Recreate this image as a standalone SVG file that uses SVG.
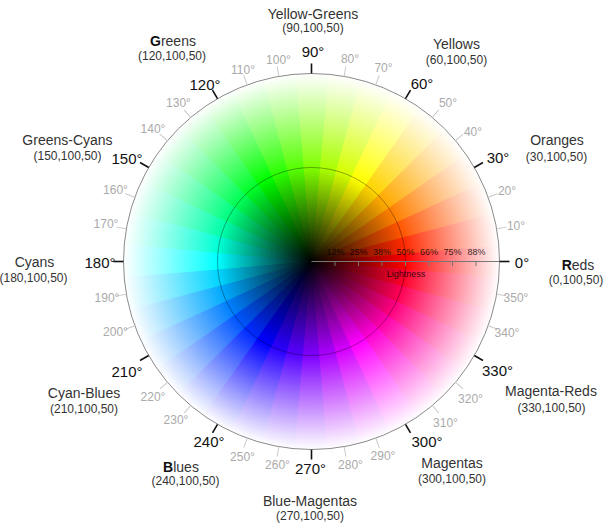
<svg xmlns="http://www.w3.org/2000/svg" xmlns:xlink="http://www.w3.org/1999/xlink" width="610" height="530" viewBox="0 0 610 530">
<style>
text{font-family:"Liberation Sans","Noto Sans",Arial,sans-serif;}
.name{font-size:14px;fill:#333;text-anchor:middle;}
.coord{font-size:12px;fill:#333;text-anchor:middle;}
.maj{font-size:15px;fill:#111;text-anchor:middle;}
.min{font-size:12px;fill:#aaa;text-anchor:middle;}
.pct{font-size:9px;fill:#000;fill-opacity:.8;text-anchor:middle;}
.mt{stroke:#c8c8c8;stroke-width:1;}
.Mt{stroke:#111;stroke-width:1.6;}
</style>
<defs>
<path id="w" d="M311.5,261.5 L498.725,278.539 A188,188 0 0,0 498.725,244.461 Z"/>
<line id="tk" x1="499.5" y1="261.5" x2="509.5" y2="261.5"/>
<radialGradient id="gb" gradientUnits="userSpaceOnUse" cx="311.5" cy="261.5" r="188"><stop offset="0" stop-color="#000"/><stop offset=".5" stop-color="#7a7a7a"/><stop offset="1" stop-color="#fff"/></radialGradient>
<radialGradient id="g0" gradientUnits="userSpaceOnUse" cx="311.5" cy="261.5" r="188"><stop offset="0" stop-color="#000"/><stop offset=".5" stop-color="hsl(0,100%,50%)"/><stop offset="1" stop-color="#fff"/></radialGradient>
<radialGradient id="g10" gradientUnits="userSpaceOnUse" cx="311.5" cy="261.5" r="188"><stop offset="0" stop-color="#000"/><stop offset=".5" stop-color="hsl(10,100%,50%)"/><stop offset="1" stop-color="#fff"/></radialGradient>
<radialGradient id="g20" gradientUnits="userSpaceOnUse" cx="311.5" cy="261.5" r="188"><stop offset="0" stop-color="#000"/><stop offset=".5" stop-color="hsl(20,100%,50%)"/><stop offset="1" stop-color="#fff"/></radialGradient>
<radialGradient id="g30" gradientUnits="userSpaceOnUse" cx="311.5" cy="261.5" r="188"><stop offset="0" stop-color="#000"/><stop offset=".5" stop-color="hsl(30,100%,50%)"/><stop offset="1" stop-color="#fff"/></radialGradient>
<radialGradient id="g40" gradientUnits="userSpaceOnUse" cx="311.5" cy="261.5" r="188"><stop offset="0" stop-color="#000"/><stop offset=".5" stop-color="hsl(40,100%,50%)"/><stop offset="1" stop-color="#fff"/></radialGradient>
<radialGradient id="g50" gradientUnits="userSpaceOnUse" cx="311.5" cy="261.5" r="188"><stop offset="0" stop-color="#000"/><stop offset=".5" stop-color="hsl(50,100%,50%)"/><stop offset="1" stop-color="#fff"/></radialGradient>
<radialGradient id="g60" gradientUnits="userSpaceOnUse" cx="311.5" cy="261.5" r="188"><stop offset="0" stop-color="#000"/><stop offset=".5" stop-color="hsl(60,100%,50%)"/><stop offset="1" stop-color="#fff"/></radialGradient>
<radialGradient id="g70" gradientUnits="userSpaceOnUse" cx="311.5" cy="261.5" r="188"><stop offset="0" stop-color="#000"/><stop offset=".5" stop-color="hsl(70,100%,50%)"/><stop offset="1" stop-color="#fff"/></radialGradient>
<radialGradient id="g80" gradientUnits="userSpaceOnUse" cx="311.5" cy="261.5" r="188"><stop offset="0" stop-color="#000"/><stop offset=".5" stop-color="hsl(80,100%,50%)"/><stop offset="1" stop-color="#fff"/></radialGradient>
<radialGradient id="g90" gradientUnits="userSpaceOnUse" cx="311.5" cy="261.5" r="188"><stop offset="0" stop-color="#000"/><stop offset=".5" stop-color="hsl(90,100%,50%)"/><stop offset="1" stop-color="#fff"/></radialGradient>
<radialGradient id="g100" gradientUnits="userSpaceOnUse" cx="311.5" cy="261.5" r="188"><stop offset="0" stop-color="#000"/><stop offset=".5" stop-color="hsl(100,100%,50%)"/><stop offset="1" stop-color="#fff"/></radialGradient>
<radialGradient id="g110" gradientUnits="userSpaceOnUse" cx="311.5" cy="261.5" r="188"><stop offset="0" stop-color="#000"/><stop offset=".5" stop-color="hsl(110,100%,50%)"/><stop offset="1" stop-color="#fff"/></radialGradient>
<radialGradient id="g120" gradientUnits="userSpaceOnUse" cx="311.5" cy="261.5" r="188"><stop offset="0" stop-color="#000"/><stop offset=".5" stop-color="hsl(120,100%,50%)"/><stop offset="1" stop-color="#fff"/></radialGradient>
<radialGradient id="g130" gradientUnits="userSpaceOnUse" cx="311.5" cy="261.5" r="188"><stop offset="0" stop-color="#000"/><stop offset=".5" stop-color="hsl(130,100%,50%)"/><stop offset="1" stop-color="#fff"/></radialGradient>
<radialGradient id="g140" gradientUnits="userSpaceOnUse" cx="311.5" cy="261.5" r="188"><stop offset="0" stop-color="#000"/><stop offset=".5" stop-color="hsl(140,100%,50%)"/><stop offset="1" stop-color="#fff"/></radialGradient>
<radialGradient id="g150" gradientUnits="userSpaceOnUse" cx="311.5" cy="261.5" r="188"><stop offset="0" stop-color="#000"/><stop offset=".5" stop-color="hsl(150,100%,50%)"/><stop offset="1" stop-color="#fff"/></radialGradient>
<radialGradient id="g160" gradientUnits="userSpaceOnUse" cx="311.5" cy="261.5" r="188"><stop offset="0" stop-color="#000"/><stop offset=".5" stop-color="hsl(160,100%,50%)"/><stop offset="1" stop-color="#fff"/></radialGradient>
<radialGradient id="g170" gradientUnits="userSpaceOnUse" cx="311.5" cy="261.5" r="188"><stop offset="0" stop-color="#000"/><stop offset=".5" stop-color="hsl(170,100%,50%)"/><stop offset="1" stop-color="#fff"/></radialGradient>
<radialGradient id="g180" gradientUnits="userSpaceOnUse" cx="311.5" cy="261.5" r="188"><stop offset="0" stop-color="#000"/><stop offset=".5" stop-color="hsl(180,100%,50%)"/><stop offset="1" stop-color="#fff"/></radialGradient>
<radialGradient id="g190" gradientUnits="userSpaceOnUse" cx="311.5" cy="261.5" r="188"><stop offset="0" stop-color="#000"/><stop offset=".5" stop-color="hsl(190,100%,50%)"/><stop offset="1" stop-color="#fff"/></radialGradient>
<radialGradient id="g200" gradientUnits="userSpaceOnUse" cx="311.5" cy="261.5" r="188"><stop offset="0" stop-color="#000"/><stop offset=".5" stop-color="hsl(200,100%,50%)"/><stop offset="1" stop-color="#fff"/></radialGradient>
<radialGradient id="g210" gradientUnits="userSpaceOnUse" cx="311.5" cy="261.5" r="188"><stop offset="0" stop-color="#000"/><stop offset=".5" stop-color="hsl(210,100%,50%)"/><stop offset="1" stop-color="#fff"/></radialGradient>
<radialGradient id="g220" gradientUnits="userSpaceOnUse" cx="311.5" cy="261.5" r="188"><stop offset="0" stop-color="#000"/><stop offset=".5" stop-color="hsl(220,100%,50%)"/><stop offset="1" stop-color="#fff"/></radialGradient>
<radialGradient id="g230" gradientUnits="userSpaceOnUse" cx="311.5" cy="261.5" r="188"><stop offset="0" stop-color="#000"/><stop offset=".5" stop-color="hsl(230,100%,50%)"/><stop offset="1" stop-color="#fff"/></radialGradient>
<radialGradient id="g240" gradientUnits="userSpaceOnUse" cx="311.5" cy="261.5" r="188"><stop offset="0" stop-color="#000"/><stop offset=".5" stop-color="hsl(240,100%,50%)"/><stop offset="1" stop-color="#fff"/></radialGradient>
<radialGradient id="g250" gradientUnits="userSpaceOnUse" cx="311.5" cy="261.5" r="188"><stop offset="0" stop-color="#000"/><stop offset=".5" stop-color="hsl(250,100%,50%)"/><stop offset="1" stop-color="#fff"/></radialGradient>
<radialGradient id="g260" gradientUnits="userSpaceOnUse" cx="311.5" cy="261.5" r="188"><stop offset="0" stop-color="#000"/><stop offset=".5" stop-color="hsl(260,100%,50%)"/><stop offset="1" stop-color="#fff"/></radialGradient>
<radialGradient id="g270" gradientUnits="userSpaceOnUse" cx="311.5" cy="261.5" r="188"><stop offset="0" stop-color="#000"/><stop offset=".5" stop-color="hsl(270,100%,50%)"/><stop offset="1" stop-color="#fff"/></radialGradient>
<radialGradient id="g280" gradientUnits="userSpaceOnUse" cx="311.5" cy="261.5" r="188"><stop offset="0" stop-color="#000"/><stop offset=".5" stop-color="hsl(280,100%,50%)"/><stop offset="1" stop-color="#fff"/></radialGradient>
<radialGradient id="g290" gradientUnits="userSpaceOnUse" cx="311.5" cy="261.5" r="188"><stop offset="0" stop-color="#000"/><stop offset=".5" stop-color="hsl(290,100%,50%)"/><stop offset="1" stop-color="#fff"/></radialGradient>
<radialGradient id="g300" gradientUnits="userSpaceOnUse" cx="311.5" cy="261.5" r="188"><stop offset="0" stop-color="#000"/><stop offset=".5" stop-color="hsl(300,100%,50%)"/><stop offset="1" stop-color="#fff"/></radialGradient>
<radialGradient id="g310" gradientUnits="userSpaceOnUse" cx="311.5" cy="261.5" r="188"><stop offset="0" stop-color="#000"/><stop offset=".5" stop-color="hsl(310,100%,50%)"/><stop offset="1" stop-color="#fff"/></radialGradient>
<radialGradient id="g320" gradientUnits="userSpaceOnUse" cx="311.5" cy="261.5" r="188"><stop offset="0" stop-color="#000"/><stop offset=".5" stop-color="hsl(320,100%,50%)"/><stop offset="1" stop-color="#fff"/></radialGradient>
<radialGradient id="g330" gradientUnits="userSpaceOnUse" cx="311.5" cy="261.5" r="188"><stop offset="0" stop-color="#000"/><stop offset=".5" stop-color="hsl(330,100%,50%)"/><stop offset="1" stop-color="#fff"/></radialGradient>
<radialGradient id="g340" gradientUnits="userSpaceOnUse" cx="311.5" cy="261.5" r="188"><stop offset="0" stop-color="#000"/><stop offset=".5" stop-color="hsl(340,100%,50%)"/><stop offset="1" stop-color="#fff"/></radialGradient>
<radialGradient id="g350" gradientUnits="userSpaceOnUse" cx="311.5" cy="261.5" r="188"><stop offset="0" stop-color="#000"/><stop offset=".5" stop-color="hsl(350,100%,50%)"/><stop offset="1" stop-color="#fff"/></radialGradient>
</defs>

<g id="wheel">
<circle cx="311.5" cy="261.5" r="188" fill="url(#gb)"/>
<use href="#w" fill="url(#g0)"/>
<use href="#w" fill="url(#g10)" transform="rotate(-10 311.5 261.5)"/>
<use href="#w" fill="url(#g20)" transform="rotate(-20 311.5 261.5)"/>
<use href="#w" fill="url(#g30)" transform="rotate(-30 311.5 261.5)"/>
<use href="#w" fill="url(#g40)" transform="rotate(-40 311.5 261.5)"/>
<use href="#w" fill="url(#g50)" transform="rotate(-50 311.5 261.5)"/>
<use href="#w" fill="url(#g60)" transform="rotate(-60 311.5 261.5)"/>
<use href="#w" fill="url(#g70)" transform="rotate(-70 311.5 261.5)"/>
<use href="#w" fill="url(#g80)" transform="rotate(-80 311.5 261.5)"/>
<use href="#w" fill="url(#g90)" transform="rotate(-90 311.5 261.5)"/>
<use href="#w" fill="url(#g100)" transform="rotate(-100 311.5 261.5)"/>
<use href="#w" fill="url(#g110)" transform="rotate(-110 311.5 261.5)"/>
<use href="#w" fill="url(#g120)" transform="rotate(-120 311.5 261.5)"/>
<use href="#w" fill="url(#g130)" transform="rotate(-130 311.5 261.5)"/>
<use href="#w" fill="url(#g140)" transform="rotate(-140 311.5 261.5)"/>
<use href="#w" fill="url(#g150)" transform="rotate(-150 311.5 261.5)"/>
<use href="#w" fill="url(#g160)" transform="rotate(-160 311.5 261.5)"/>
<use href="#w" fill="url(#g170)" transform="rotate(-170 311.5 261.5)"/>
<use href="#w" fill="url(#g180)" transform="rotate(-180 311.5 261.5)"/>
<use href="#w" fill="url(#g190)" transform="rotate(-190 311.5 261.5)"/>
<use href="#w" fill="url(#g200)" transform="rotate(-200 311.5 261.5)"/>
<use href="#w" fill="url(#g210)" transform="rotate(-210 311.5 261.5)"/>
<use href="#w" fill="url(#g220)" transform="rotate(-220 311.5 261.5)"/>
<use href="#w" fill="url(#g230)" transform="rotate(-230 311.5 261.5)"/>
<use href="#w" fill="url(#g240)" transform="rotate(-240 311.5 261.5)"/>
<use href="#w" fill="url(#g250)" transform="rotate(-250 311.5 261.5)"/>
<use href="#w" fill="url(#g260)" transform="rotate(-260 311.5 261.5)"/>
<use href="#w" fill="url(#g270)" transform="rotate(-270 311.5 261.5)"/>
<use href="#w" fill="url(#g280)" transform="rotate(-280 311.5 261.5)"/>
<use href="#w" fill="url(#g290)" transform="rotate(-290 311.5 261.5)"/>
<use href="#w" fill="url(#g300)" transform="rotate(-300 311.5 261.5)"/>
<use href="#w" fill="url(#g310)" transform="rotate(-310 311.5 261.5)"/>
<use href="#w" fill="url(#g320)" transform="rotate(-320 311.5 261.5)"/>
<use href="#w" fill="url(#g330)" transform="rotate(-330 311.5 261.5)"/>
<use href="#w" fill="url(#g340)" transform="rotate(-340 311.5 261.5)"/>
<use href="#w" fill="url(#g350)" transform="rotate(-350 311.5 261.5)"/>
<circle cx="311.5" cy="261.5" r="188" fill="none" stroke="#8a8a8a" stroke-width="1"/>
<circle cx="311.5" cy="261.5" r="94" fill="none" stroke="#000" stroke-opacity=".35" stroke-width="1"/>
</g>

<g id="lightness-axis">
<line x1="311.5" y1="261.5" x2="499.5" y2="261.5" stroke="#777" stroke-width="1"/>
<g stroke="#777" stroke-width="1">
<line x1="335" y1="261.5" x2="335" y2="266"/>
<line x1="358.5" y1="261.5" x2="358.5" y2="266"/>
<line x1="382" y1="261.5" x2="382" y2="266"/>
<line x1="405.5" y1="261.5" x2="405.5" y2="266"/>
<line x1="429" y1="261.5" x2="429" y2="266"/>
<line x1="452.5" y1="261.5" x2="452.5" y2="266"/>
<line x1="476" y1="261.5" x2="476" y2="266"/>
</g>
<text class="pct" x="335.5" y="254.5">12%</text>
<text class="pct" x="358.5" y="254.5">25%</text>
<text class="pct" x="382" y="254.5">38%</text>
<text class="pct" x="405.5" y="254.5">50%</text>
<text class="pct" x="429" y="254.5">66%</text>
<text class="pct" x="452.5" y="254.5">75%</text>
<text class="pct" x="476.5" y="254.5">88%</text>
<text class="pct" x="406" y="277" style="font-size:9px">Lightness</text>
</g>

<g id="ticks">
<use href="#tk" class="mt" transform="rotate(-10 311.5 261.5)"/>
<use href="#tk" class="mt" transform="rotate(-20 311.5 261.5)"/>
<use href="#tk" class="mt" transform="rotate(-40 311.5 261.5)"/>
<use href="#tk" class="mt" transform="rotate(-50 311.5 261.5)"/>
<use href="#tk" class="mt" transform="rotate(-70 311.5 261.5)"/>
<use href="#tk" class="mt" transform="rotate(-80 311.5 261.5)"/>
<use href="#tk" class="mt" transform="rotate(-100 311.5 261.5)"/>
<use href="#tk" class="mt" transform="rotate(-110 311.5 261.5)"/>
<use href="#tk" class="mt" transform="rotate(-130 311.5 261.5)"/>
<use href="#tk" class="mt" transform="rotate(-140 311.5 261.5)"/>
<use href="#tk" class="mt" transform="rotate(-160 311.5 261.5)"/>
<use href="#tk" class="mt" transform="rotate(-170 311.5 261.5)"/>
<use href="#tk" class="mt" transform="rotate(-190 311.5 261.5)"/>
<use href="#tk" class="mt" transform="rotate(-200 311.5 261.5)"/>
<use href="#tk" class="mt" transform="rotate(-220 311.5 261.5)"/>
<use href="#tk" class="mt" transform="rotate(-230 311.5 261.5)"/>
<use href="#tk" class="mt" transform="rotate(-250 311.5 261.5)"/>
<use href="#tk" class="mt" transform="rotate(-260 311.5 261.5)"/>
<use href="#tk" class="mt" transform="rotate(-280 311.5 261.5)"/>
<use href="#tk" class="mt" transform="rotate(-290 311.5 261.5)"/>
<use href="#tk" class="mt" transform="rotate(-310 311.5 261.5)"/>
<use href="#tk" class="mt" transform="rotate(-320 311.5 261.5)"/>
<use href="#tk" class="mt" transform="rotate(-340 311.5 261.5)"/>
<use href="#tk" class="mt" transform="rotate(-350 311.5 261.5)"/>
<use href="#tk" class="Mt"/>
<use href="#tk" class="Mt" transform="rotate(-30 311.5 261.5)"/>
<use href="#tk" class="Mt" transform="rotate(-60 311.5 261.5)"/>
<use href="#tk" class="Mt" transform="rotate(-90 311.5 261.5)"/>
<use href="#tk" class="Mt" transform="rotate(-120 311.5 261.5)"/>
<use href="#tk" class="Mt" transform="rotate(-150 311.5 261.5)"/>
<use href="#tk" class="Mt" transform="rotate(-180 311.5 261.5)"/>
<use href="#tk" class="Mt" transform="rotate(-210 311.5 261.5)"/>
<use href="#tk" class="Mt" transform="rotate(-240 311.5 261.5)"/>
<use href="#tk" class="Mt" transform="rotate(-270 311.5 261.5)"/>
<use href="#tk" class="Mt" transform="rotate(-300 311.5 261.5)"/>
<use href="#tk" class="Mt" transform="rotate(-330 311.5 261.5)"/>
</g>

<g id="minor-labels">
<text class="min" x="516" y="230">10°</text>
<text class="min" x="507" y="195">20°</text>
<text class="min" x="473" y="135.5">40°</text>
<text class="min" x="448" y="107">50°</text>
<text class="min" x="383.5" y="71.5">70°</text>
<text class="min" x="350" y="62.5">80°</text>
<text class="min" x="278.5" y="63.5">100°</text>
<text class="min" x="243" y="73.5">110°</text>
<text class="min" x="178.5" y="107">130°</text>
<text class="min" x="153" y="132.5">140°</text>
<text class="min" x="115.5" y="193.5">160°</text>
<text class="min" x="106" y="228">170°</text>
<text class="min" x="107" y="301.5">190°</text>
<text class="min" x="115.5" y="336">200°</text>
<text class="min" x="153" y="400.5">220°</text>
<text class="min" x="176" y="423.5">230°</text>
<text class="min" x="242.5" y="461">250°</text>
<text class="min" x="277.5" y="468.5">260°</text>
<text class="min" x="350.5" y="468.5">280°</text>
<text class="min" x="383" y="460">290°</text>
<text class="min" x="445.5" y="426.5">310°</text>
<text class="min" x="470.5" y="402.5">320°</text>
<text class="min" x="507" y="336.5">340°</text>
<text class="min" x="516" y="301.5">350°</text>
</g>

<g id="major-labels">
<text class="maj" x="522" y="268">0°</text>
<text class="maj" x="498" y="163">30°</text>
<text class="maj" x="422" y="88.5">60°</text>
<text class="maj" x="313" y="56.5">90°</text>
<text class="maj" x="205" y="90">120°</text>
<text class="maj" x="127" y="164">150°</text>
<text class="maj" x="100" y="268">180°</text>
<text class="maj" x="127" y="376.5">210°</text>
<text class="maj" x="209" y="446.5">240°</text>
<text class="maj" x="310.5" y="473.5">270°</text>
<text class="maj" x="427" y="447">300°</text>
<text class="maj" x="497.5" y="375.5">330°</text>
</g>

<g id="reds"><text class="name" x="578" y="270"><tspan font-weight="bold" fill="#111">R</tspan>eds</text><text class="coord" x="576" y="284">(0,100,50)</text></g>
<g id="oranges"><text class="name" x="557" y="145">Oranges</text><text class="coord" x="556.5" y="160.5">(30,100,50)</text></g>
<g id="yellows"><text class="name" x="456.5" y="48.5">Yellows</text><text class="coord" x="456.5" y="63.5">(60,100,50)</text></g>
<g id="yellow-greens"><text class="name" x="313" y="18.5">Yellow-Greens</text><text class="coord" x="313" y="31.5">(90,100,50)</text></g>
<g id="greens"><text class="name" x="173" y="46"><tspan font-weight="bold" fill="#111">G</tspan>reens</text><text class="coord" x="172" y="59.5">(120,100,50)</text></g>
<g id="greens-cyans"><text class="name" x="67.5" y="145">Greens-Cyans</text><text class="coord" x="67.5" y="159.5">(150,100,50)</text></g>
<g id="cyans"><text class="name" x="34.5" y="267">Cyans</text><text class="coord" x="33.5" y="282">(180,100,50)</text></g>
<g id="cyan-blues"><text class="name" x="84" y="397.5">Cyan-Blues</text><text class="coord" x="84" y="412.5">(210,100,50)</text></g>
<g id="blues"><text class="name" x="181" y="471.5"><tspan font-weight="bold" fill="#111">B</tspan>lues</text><text class="coord" x="185.5" y="485">(240,100,50)</text></g>
<g id="blue-magentas"><text class="name" x="310" y="506">Blue-Magentas</text><text class="coord" x="310" y="520">(270,100,50)</text></g>
<g id="magentas"><text class="name" x="452" y="468">Magentas</text><text class="coord" x="452" y="482.5">(300,100,50)</text></g>
<g id="magenta-reds"><text class="name" x="551" y="396">Magenta-Reds</text><text class="coord" x="551.5" y="412">(330,100,50)</text></g>
</svg>
